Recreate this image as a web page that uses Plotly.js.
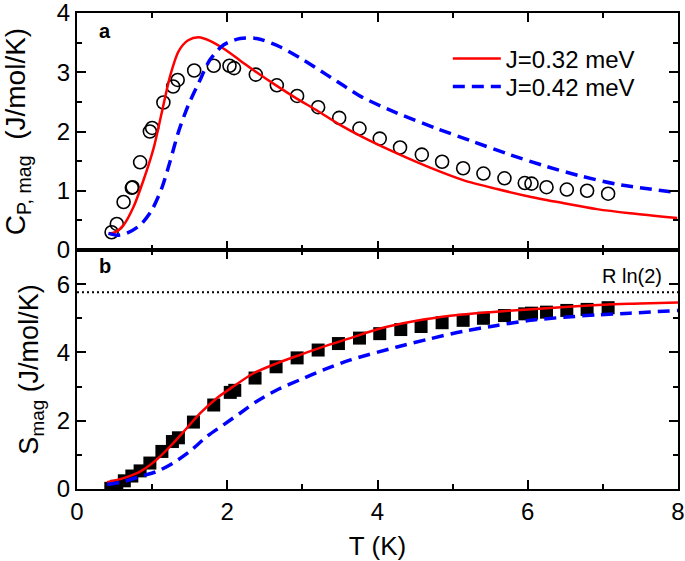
<!DOCTYPE html>
<html>
<head>
<meta charset="utf-8">
<script src="https://cdn.plot.ly/plotly-3.0.1.min.js"></script>
<style>html,body{margin:0;padding:0;background:#fff;}#chart{width:685px;height:561px;}</style>
</head>
<body>
<div id="chart"></div>
<script>
// ---- Panel a: magnetic heat capacity C_P,mag (J/mol/K) ----
var cpT   = [0.46,0.53,0.62,0.73,0.74,0.84,0.97,1.00,1.15,1.28,1.34,1.56,1.82,2.03,2.09,2.38,2.66,2.93,3.21,3.49,3.76,4.03,4.30,4.59,4.86,5.14,5.41,5.69,5.96,6.05,6.25,6.52,6.79,7.07];
var cpVal = [0.30,0.44,0.81,1.05,1.06,1.48,2.00,2.06,2.49,2.76,2.87,3.03,3.11,3.11,3.07,2.96,2.78,2.60,2.41,2.23,2.05,1.88,1.73,1.61,1.49,1.38,1.29,1.21,1.13,1.12,1.06,1.02,1.00,0.95];

var cpFitT_032 = [0.42,0.51,0.62,0.75,0.88,1.02,1.13,1.24,1.35,1.48,1.62,1.77,1.95,2.17,2.39,2.66,2.92,3.20,3.49,3.81,4.26,4.70,5.14,5.59,6.03,6.48,6.92,7.36,7.99];
var cpFit_032  = [0.28,0.30,0.42,0.72,1.16,1.72,2.33,2.94,3.35,3.54,3.59,3.53,3.40,3.20,3.00,2.77,2.56,2.35,2.12,1.90,1.63,1.39,1.18,1.03,0.90,0.79,0.69,0.62,0.54];

var cpFitT_042 = [0.42,0.53,0.66,0.84,0.99,1.13,1.24,1.35,1.48,1.62,1.77,1.95,2.17,2.39,2.70,3.01,3.32,3.59,3.81,4.26,4.79,5.27,5.76,6.25,6.70,7.19,7.99];
var cpFit_042  = [0.28,0.25,0.28,0.42,0.66,1.05,1.50,1.99,2.44,2.82,3.21,3.46,3.57,3.57,3.43,3.21,2.96,2.74,2.57,2.31,2.05,1.83,1.61,1.41,1.25,1.11,0.97];

// ---- Panel b: magnetic entropy S_mag (J/mol/K) ----
var sT   = [0.45,0.53,0.63,0.73,0.84,0.97,1.13,1.27,1.35,1.55,1.82,2.04,2.10,2.37,2.65,2.93,3.21,3.48,3.76,4.03,4.31,4.58,4.86,5.14,5.41,5.69,5.96,6.05,6.25,6.52,6.79,7.07];
var sVal = [0.02,0.08,0.24,0.38,0.53,0.76,1.10,1.39,1.50,1.96,2.46,2.83,2.89,3.25,3.58,3.84,4.07,4.26,4.42,4.55,4.67,4.76,4.87,4.94,5.00,5.08,5.13,5.15,5.18,5.23,5.26,5.31];

var sFitT_032 = [0.40,0.62,0.84,1.06,1.28,1.46,1.64,1.86,2.08,2.35,2.66,2.97,3.28,3.64,4.00,4.50,5.00,5.50,6.00,6.50,7.00,7.50,8.00];
var sFit_032  = [0.20,0.32,0.51,0.86,1.34,1.78,2.22,2.66,3.00,3.39,3.68,3.93,4.17,4.42,4.68,4.92,5.08,5.18,5.26,5.33,5.40,5.43,5.46];

var sFitT_042 = [0.40,0.62,0.84,1.06,1.28,1.50,1.73,1.95,2.17,2.39,2.66,2.97,3.28,3.64,4.26,4.70,5.14,5.59,6.03,6.48,6.92,7.36,8.00];
var sFit_042  = [0.13,0.22,0.37,0.51,0.76,1.10,1.54,1.88,2.22,2.56,2.90,3.20,3.49,3.78,4.16,4.40,4.62,4.79,4.94,5.03,5.10,5.15,5.23];

var RLN2 = 5.76;           // R ln(2)
var rln2T = [0, 8];
var rln2S = [RLN2, RLN2];

var legendNames = ['J=0.32 meV', 'J=0.42 meV'];

var RED = '#ff0000', BLUE = '#0000ff';
var FONT = 'Liberation Sans, Arial, Helvetica, sans-serif';
var NB = '\u00A0';

var traces = [
  {x: cpT, y: cpVal, xaxis: 'x2', yaxis: 'y2', type: 'scatter', mode: 'markers', showlegend: false,
   marker: {symbol: 'circle-open', size: 13, color: '#000', line: {width: 1.6, color: '#000'}}},
  {x: cpFitT_032, y: cpFit_032, xaxis: 'x2', yaxis: 'y2', type: 'scatter', mode: 'lines', name: legendNames[0],
   legend: 'legend', line: {color: RED, width: 2.5, shape: 'spline', smoothing: 0.8}},
  {x: cpFitT_042, y: cpFit_042, xaxis: 'x2', yaxis: 'y2', type: 'scatter', mode: 'lines', name: legendNames[1],
   legend: 'legend2', line: {color: BLUE, width: 3.5, dash: '12px,7px', shape: 'spline', smoothing: 0.8}},

  {x: rln2T, y: rln2S, xaxis: 'x', yaxis: 'y', type: 'scatter', mode: 'lines', showlegend: false,
   line: {color: '#000', width: 2, dash: '2px,3px'}},
  {x: sT, y: sVal, xaxis: 'x', yaxis: 'y', type: 'scatter', mode: 'markers', showlegend: false,
   marker: {symbol: 'square', size: 13, color: '#000', line: {width: 0}}},
  {x: sFitT_032, y: sFit_032, xaxis: 'x', yaxis: 'y', type: 'scatter', mode: 'lines', showlegend: false,
   line: {color: RED, width: 2.5, shape: 'spline', smoothing: 0.8}},
  {x: sFitT_042, y: sFit_042, xaxis: 'x', yaxis: 'y', type: 'scatter', mode: 'lines', showlegend: false,
   line: {color: BLUE, width: 3.5, dash: '12px,7px', shape: 'spline', smoothing: 0.8}}
];

var TOP = 13, BOT = 72, H = 561, PH = H - TOP - BOT;   // plot-area pixels

function minorTicks(d) {
  return {ticks: 'inside', ticklen: 5, tickwidth: 2, tickcolor: '#000', dtick: d, showgrid: false};
}
function ax(extra) {
  var base = {
    showline: true, linecolor: '#000', linewidth: 2, mirror: 'ticks',
    ticks: 'inside', ticklen: 9, tickwidth: 2, tickcolor: '#000',
    showgrid: false, zeroline: false, automargin: false, ticklabeloverflow: 'allow',
    tickfont: {family: FONT, size: 24, color: '#000'}
  };
  for (var k in extra) base[k] = extra[k];
  return base;
}
function legendBox(yPix) {
  return {x: 0.617, xanchor: 'left', y: 1 - (yPix - TOP) / PH, yanchor: 'middle', bgcolor: 'rgba(0,0,0,0)',
          borderwidth: 0, font: {family: FONT, size: 24, color: '#000'}, itemwidth: 48};
}

var split = (489 - 250) / PH;

var layout = {
  width: 685, height: H,
  margin: {l: 77, r: 7, t: TOP, b: BOT},
  paper_bgcolor: '#fff', plot_bgcolor: '#fff',
  font: {family: FONT, size: 24, color: '#000'},
  showlegend: true,
  legend: legendBox(59),
  legend2: legendBox(87),
  xaxis: ax({domain: [0, 1], anchor: 'y', range: [0, 8], dtick: 2, tick0: 0, minor: minorTicks(1),
             title: {text: 'T (K)', font: {family: FONT, size: 26, color: '#000'}, standoff: 15}}),
  yaxis: ax({domain: [0, split], anchor: 'x', range: [0, 7], dtick: 2, tick0: 0, minor: minorTicks(1),
             title: {text: 'S<sub>mag</sub> (J/mol/K)' + NB + NB + NB,
                     font: {family: FONT, size: 27, color: '#000'}, standoff: 10}}),
  xaxis2: ax({domain: [0, 1], anchor: 'y2', range: [0, 8], dtick: 2, tick0: 0, showticklabels: false,
              minor: minorTicks(1)}),
  yaxis2: ax({domain: [split, 1], anchor: 'x2', range: [0, 4], dtick: 1, tick0: 0, minor: minorTicks(0.5),
              title: {text: 'C<sub>P, mag</sub>' + NB + NB + '(J/mol/K)',
                      font: {family: FONT, size: 28, color: '#000'}, standoff: 28}}),
  annotations: [
    {text: '<b>a</b>', xref: 'x2 domain', yref: 'y2 domain', x: 0.033, y: 0.926, xanchor: 'left', yanchor: 'middle',
     showarrow: false, font: {family: FONT, size: 20, color: '#000'}},
    {text: '<b>b</b>', xref: 'x domain', yref: 'y domain', x: 0.033, y: 0.933, xanchor: 'left', yanchor: 'middle',
     showarrow: false, font: {family: FONT, size: 20, color: '#000'}},
    {text: 'R ln(2)', xref: 'x domain', yref: 'y domain', x: 0.977, y: 0.891, xanchor: 'right', yanchor: 'middle',
     showarrow: false, font: {family: FONT, size: 20, color: '#000'}}
  ]
};

Plotly.newPlot('chart', traces, layout, {staticPlot: true, displayModeBar: false});
</script>
</body>
</html>
